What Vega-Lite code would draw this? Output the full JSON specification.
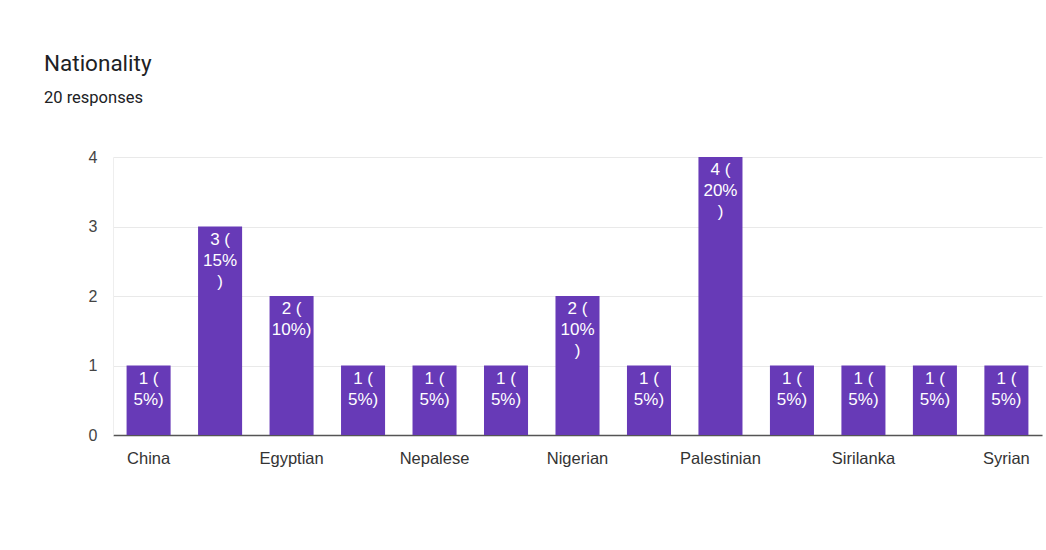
{
  "$schema": "https://vega.github.io/schema/vega-lite/v6.json",
  "autosize": {"type": "none"},
  "width": 929,
  "height": 278,
  "padding": {"left": 113, "top": 157, "right": 4, "bottom": 115},
  "background": "white",
  "title": {
    "text": "Nationality",
    "subtitle": "20 responses",
    "anchor": "start",
    "frame": "group",
    "dx": -69,
    "offset": 43,
    "font": "Roboto",
    "fontSize": 22.5,
    "fontWeight": "normal",
    "color": "#202124",
    "subtitleFont": "Roboto",
    "subtitleFontSize": 16.5,
    "subtitleColor": "#202124",
    "subtitlePadding": 14
  },
  "config": {
    "view": {"stroke": null},
    "axis": {"labelFont": "Liberation Sans", "titleFont": "Liberation Sans"}
  },
  "data": {
    "values": [
      {"nationality": "China", "count": 1, "label": "1 (\n5%)"},
      {"nationality": "Egypt", "count": 3, "label": "3 (\n15%\n)"},
      {"nationality": "Egyptian", "count": 2, "label": "2 (\n10%)"},
      {"nationality": "Indian", "count": 1, "label": "1 (\n5%)"},
      {"nationality": "Nepalese", "count": 1, "label": "1 (\n5%)"},
      {"nationality": "Nigeria", "count": 1, "label": "1 (\n5%)"},
      {"nationality": "Nigerian", "count": 2, "label": "2 (\n10%\n)"},
      {"nationality": "Pakistani", "count": 1, "label": "1 (\n5%)"},
      {"nationality": "Palestinian", "count": 4, "label": "4 (\n20%\n)"},
      {"nationality": "Saudi", "count": 1, "label": "1 (\n5%)"},
      {"nationality": "Sirilanka", "count": 1, "label": "1 (\n5%)"},
      {"nationality": "Sudanese", "count": 1, "label": "1 (\n5%)"},
      {"nationality": "Syrian", "count": 1, "label": "1 (\n5%)"}
    ]
  },
  "encoding": {
    "x": {
      "field": "nationality",
      "type": "nominal",
      "sort": null,
      "scale": {"paddingInner": 0.384, "paddingOuter": 0.19},
      "axis": {
        "title": null,
        "labelAngle": 0,
        "labelFontSize": 16.5,
        "labelColor": "#333333",
        "labelPadding": 15,
        "ticks": false,
        "domainColor": "#555555",
        "domainWidth": 1.5,
        "labelOverlap": false,
        "labelExpr": "round(datum.index * 12) % 2 ? '' : datum.label"
      }
    },
    "y": {
      "field": "count",
      "type": "quantitative",
      "scale": {"domain": [0, 4], "nice": false},
      "axis": {
        "title": null,
        "values": [0, 0.5, 1, 1.5, 2, 2.5, 3, 3.5, 4],
        "format": "d",
        "labelExpr": "datum.value % 1 ? '' : datum.label",
        "labelFontSize": 16,
        "labelColor": "#444444",
        "labelPadding": 16,
        "ticks": false,
        "domainColor": "#eeeeee",
        "gridColor": {"condition": {"test": "datum.value % 1", "value": "#f5f5f5"}, "value": "#e9e9e9"},
        "gridWidth": 1.2
      }
    }
  },
  "layer": [
    {"mark": {"type": "bar", "color": "#673ab7"}},
    {
      "mark": {
        "type": "text",
        "color": "white",
        "baseline": "top",
        "dy": 5,
        "font": "Liberation Sans",
        "fontSize": 17,
        "lineBreak": "\n",
        "lineHeight": 21
      },
      "encoding": {"text": {"field": "label"}}
    }
  ]
}
